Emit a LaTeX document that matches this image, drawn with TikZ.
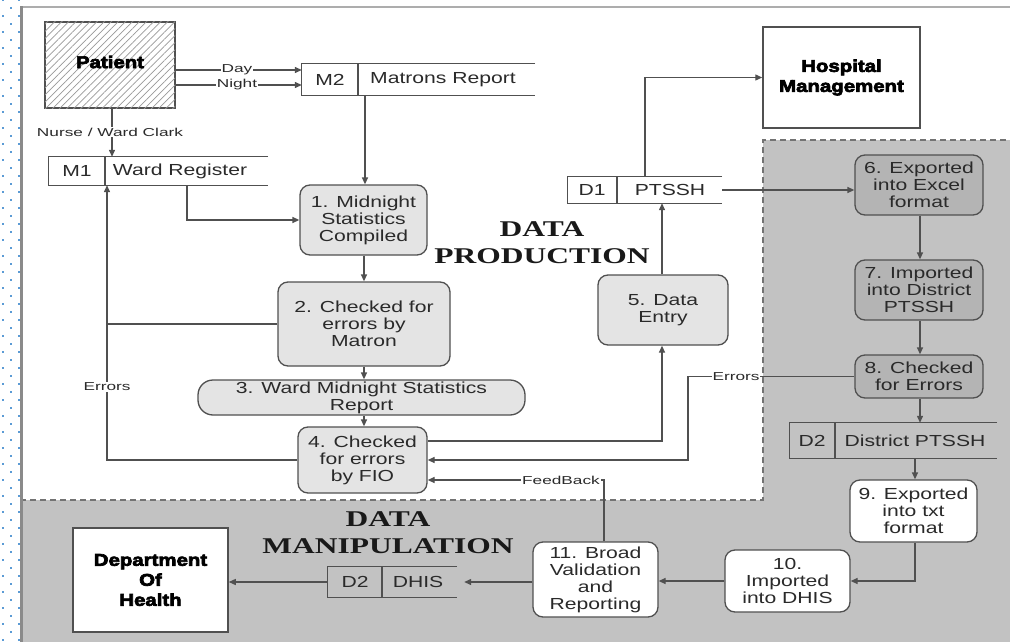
\documentclass[tikz,border=0pt]{standalone}
\usepackage{fontspec}
\setmainfont{Liberation Sans}[FakeStretch=1.32]
\newfontfamily\smallfnt{Liberation Sans}[FakeStretch=1.5]
\newfontfamily\titlefnt{Liberation Sans}[FakeStretch=1.2,BoldFeatures={FakeBold=4}]
\newfontfamily\serifwide{Liberation Serif}[FakeStretch=1.4]
\usetikzlibrary{arrows.meta,patterns.meta,calc}
\definecolor{lc}{HTML}{505050}
\definecolor{lightbox}{HTML}{E4E4E4}
\definecolor{darkbox}{HTML}{B4B4B4}
\definecolor{graybg}{HTML}{C2C2C2}
\definecolor{txt}{HTML}{2A2A2A}
\definecolor{dotc}{HTML}{5B9BD5}
\definecolor{framec}{HTML}{8A8A8A}
\tikzset{
  line/.style={draw=lc, line width=1.3pt},
  arr/.style={line, -{Triangle[length=7pt,width=6pt]}},
  proc/.style={draw=lc, line width=1.3pt, rounded corners=10pt, fill=lightbox,
    align=center, font=\fontsize{16}{17}\selectfont, text=txt, inner sep=0pt},
  dproc/.style={proc, fill=darkbox},
  wproc/.style={proc, fill=white},
  store/.style={draw=none, inner sep=0pt},
  stxt/.style={font=\fontsize{16}{17}\selectfont, text=txt, inner sep=0pt},
  ent/.style={draw=lc, line width=1.5pt, fill=white, align=center,
    font=\titlefnt\bfseries\fontsize{17}{20}\selectfont, text=black, inner sep=0pt},
  lbl/.style={font=\smallfnt\fontsize{11.5}{12}\selectfont, text=txt, fill=white, inner sep=0.8pt},
  zone/.style={font=\serifwide\bfseries\fontsize{22.5}{27}\selectfont, text=black!90, align=center, inner sep=0pt},
  zoneline/.style={draw=lc!80, line width=1.5pt, dash pattern=on 6pt off 4pt}
}
\begin{document}
\begin{tikzpicture}[x=1pt,y=-1pt]
\useasboundingbox (0,0) rectangle (1010,642);
\fill[white] (0,0) rectangle (1010,642);
% decorative dots on left margin
\foreach \k in {0,...,40}{
  \fill[dotc] ({3-1},{16*\k-1}) rectangle ++(2,2);
  \fill[dotc] ({19-1},{16*\k-1}) rectangle ++(2,2);
  \fill[dotc] ({11-1},{16*\k+8-1}) rectangle ++(2,2);
}
% gray zone
\fill[graybg] (763,140) -- (1010,140) -- (1010,642) -- (20,642) -- (20,500) -- (763,500) -- cycle;
\draw[zoneline] (20,500) -- (763,500) -- (763,140) -- (1010,140);
% frame
\draw[framec!70, line width=2pt] (20,7.5) -- (1010,7.5);
\draw[framec, line width=2.5pt] (21.3,6.5) -- (21.3,642);

% zone titles
\node[zone] (prod) at (542,243) {DATA\\PRODUCTION};
\node[zone] (manip) at (388,533) {DATA\\MANIPULATION};

% external entities
\node[ent, minimum width=130pt, minimum height=86pt, fill=white,
  postaction={pattern={Lines[angle=45,distance=5pt,line width=0.7pt]}, pattern color=gray!80}]
  (patient) at (110,65) {};
\node[font=\titlefnt\bfseries\fontsize{17}{20}\selectfont, inner sep=0pt] (patienttxt) at (110,62) {Patient};
\node[ent, minimum width=157pt, minimum height=101pt] (hm) at (841.5,77.5) {Hospital\\Management};
\node[ent, minimum width=155pt, minimum height=104pt] (doh) at (150.5,580) {Department\\Of\\Health};

% data stores
\node[store, minimum width=233pt, minimum height=31pt] (m2) at (418.5,79.5) {};
\draw[line] (m2.north east) -- (m2.north west) -- (m2.south west) -- (m2.south east);
\draw[line] (m2.north west -| 358,0) -- (m2.south west -| 358,0);
\node[stxt] (m2id) at (330,79.5) {M2};
\node[stxt] (m2name) at (443,79.5) {Matrons Report};

\node[store, minimum width=219pt, minimum height=28pt] (m1) at (158.5,171) {};
\draw[line] (m1.north east) -- (m1.north west) -- (m1.south west) -- (m1.south east);
\draw[line] (m1.north west -| 105,0) -- (m1.south west -| 105,0);
\node[stxt] (m1id) at (77,171) {M1};
\node[stxt] (m1name) at (180,171) {Ward Register};

\node[store, minimum width=154pt, minimum height=26pt] (d1) at (645,190) {};
\draw[line] (d1.north east) -- (d1.north west) -- (d1.south west) -- (d1.south east);
\draw[line] (d1.north west -| 617,0) -- (d1.south west -| 617,0);
\node[stxt] (d1id) at (592,190) {D1};
\node[stxt] (d1name) at (670,190) {PTSSH};

\node[store, minimum width=207pt, minimum height=35pt] (d2) at (893.5,440.5) {};
\draw[line] (d2.north east) -- (d2.north west) -- (d2.south west) -- (d2.south east);
\draw[line] (d2.north west -| 835,0) -- (d2.south west -| 835,0);
\node[stxt] (d2id) at (812,440.5) {D2};
\node[stxt] (d2name) at (915,440.5) {District PTSSH};

\node[store, minimum width=129pt, minimum height=30pt] (dhis) at (392.5,582) {};
\draw[line] (dhis.north east) -- (dhis.north west) -- (dhis.south west) -- (dhis.south east);
\draw[line] (dhis.north west -| 382,0) -- (dhis.south west -| 382,0);
\node[stxt] (dhisid) at (355,582) {D2};
\node[stxt] (dhisname) at (418,582) {DHIS};

% processes
\node[proc, minimum width=127pt, minimum height=70pt] (p1) at (363.5,220) {1. Midnight\\Statistics\\Compiled};
\node[proc, minimum width=172pt, minimum height=84pt] (p2) at (364,324) {2. Checked for\\errors by\\Matron};
\node[proc, rounded corners=15pt, minimum width=327pt, minimum height=35pt] (p3) at (361.5,397.5) {3. Ward Midnight Statistics\\Report};
\node[proc, minimum width=129pt, minimum height=66pt] (p4) at (362.5,460) {4. Checked\\for errors\\by FIO};
\node[proc, minimum width=130pt, minimum height=70pt] (p5) at (663,310) {5. Data\\Entry};
\node[dproc, minimum width=128pt, minimum height=60pt] (p6) at (919,185) {6. Exported\\into Excel\\format};
\node[dproc, minimum width=128pt, minimum height=60pt] (p7) at (919,290) {7. Imported\\into District\\PTSSH};
\node[dproc, minimum width=128pt, minimum height=43pt] (p8) at (919,376.5) {8. Checked\\for Errors};
\node[wproc, minimum width=127pt, minimum height=62pt] (p9) at (913.5,511) {9. Exported\\into txt\\format};
\node[wproc, minimum width=125pt, minimum height=62pt] (p10) at (787.5,581) {10.\\Imported\\into DHIS};
\node[wproc, minimum width=125pt, minimum height=75pt] (p11) at (595.5,579.5) {11. Broad\\Validation\\and\\Reporting};

% connectors
\draw[arr] (patient.east |- 0,70) -- (m2.west |- 0,70);
\draw[arr] (patient.east |- 0,85) -- (m2.west |- 0,85);
\node[lbl] (day) at (237,70) {Day};
\node[lbl] (night) at (237,85) {Night};

\draw[arr] (patient.south -| 112,0) -- (m1.north -| 112,0);
\node[lbl] (nurse) at (110,132) {Nurse / Ward Clark};

\draw[arr] (m2.south -| 365,0) -- (p1.north -| 365,0);
\draw[arr] (m1.south -| 187,0) |- (p1.west);
\draw[arr] (p1.south -| 364,0) -- (p2.north -| 364,0);
\draw[arr] (p2.south -| 364,0) -- (p3.north -| 364,0);
\draw[arr] (p3.south -| 364,0) -- (p4.north -| 364,0);

\draw[line] (p2.west) -- (p2.west -| 107,0);
\draw[arr] (p4.west) -| (m1.south -| 107,0);
\node[lbl] (err1) at (107,387) {Errors};

\draw[arr] (p4.east |- 0,441) -| (p5.south -| 662,0);
\draw[arr] (p5.north -| 662,0) -- (d1.south -| 662,0);
\draw[arr] (d1.north -| 645,0) |- (hm.west);
\draw[arr] (d1.east) -- (p6.west |- d1.east);

\draw[arr] (p6.south -| 920,0) -- (p7.north -| 920,0);
\draw[arr] (p7.south -| 920,0) -- (p8.north -| 920,0);
\draw[arr] (p8.south -| 920,0) -- (d2.north -| 920,0);
\draw[arr] (d2.south -| 915,0) -- (p9.north -| 915,0);

\draw[arr] (p8.west) -- (p8.west -| 688,0) |- (p4.east |- 0,460);
\node[lbl] (err2) at (736,377) {Errors};

\draw[arr] (p11.north -| 604,0) |- (p4.east |- 0,480);
\node[lbl] (fb) at (561,480) {FeedBack};

\draw[arr] (p9.south -| 915,0) |- (p10.east);
\draw[arr] (p10.west) -- (p11.east |- p10.west);
\draw[arr, shorten >=7pt] (p11.west |- 0,582) -- (dhis.east |- 0,582);
\draw[arr] (dhis.west) -- (doh.east |- dhis.west);
\end{tikzpicture}
\end{document}
